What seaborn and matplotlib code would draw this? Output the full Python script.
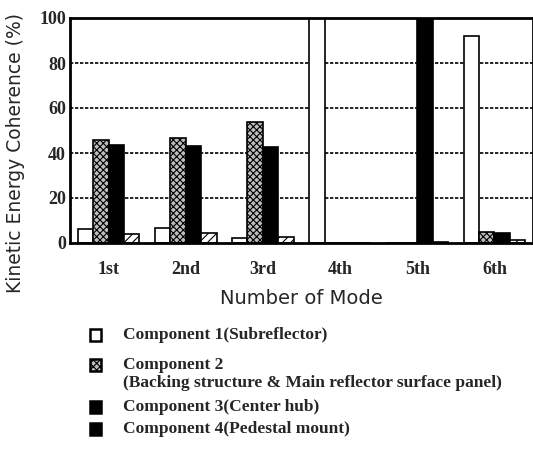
import pandas as pd
import numpy as np
import matplotlib.pyplot as plt
import matplotlib.patches as mpatches
import seaborn as sns

# Data
modes = ["1st", "2nd", "3rd", "4th", "5th", "6th"]
components = ["Component 1", "Component 2", "Component 3", "Component 4"]
comp1 = [6, 6.5, 2, 100, 0, 92]
comp2 = [46, 46.5, 54, 0, 0, 5]
comp3 = [43.5, 43, 42.5, 0, 100, 4.5]
comp4 = [4, 4.5, 2.5, 0, 0.5, 1.5]
legend_labels = [
  "Component 1(Subreflector)",
  "Component 2\n(Backing structure & Main reflector surface panel)",
  "Component 3(Center hub)",
  "Component 4(Pedestal mount)",
]

df = pd.DataFrame({
  "mode": modes * 4,
  "component": np.repeat(components, len(modes)),
  "value": comp1 + comp2 + comp3 + comp4,
})

sns.set_style("white")
plt.rcParams["font.family"] = ["DejaVu Sans"]
plt.rcParams["hatch.linewidth"] = 0.8

W, H = 533, 457
fig = plt.figure(figsize=(W / 100, H / 100), dpi=100)
ax = fig.add_axes([70 / W, 1 - 243 / H, 463 / W, 225 / H])

sns.barplot(data=df, x="mode", y="value", hue="component", order=modes,
            hue_order=components, ax=ax, width=0.8, legend=False,
            edgecolor="black", linewidth=1.2)

# styles per component
faces = ["white", "#bdbdbd", "black", "white"]
hatches = ["", "xxxxx", "", "////"]
for cont, fc, h in zip(ax.containers, faces, hatches):
  for p in cont:
    p.set_facecolor(fc)
    p.set_hatch(h)
    p.set_edgecolor("black")

ax.set_ylim(0, 100)
ax.set_xlim(-0.5, 5.5)
ax.set_yticks([0, 20, 40, 60, 80, 100])
for y in [20, 40, 60, 80]:
  ax.axhline(y, color="black", linestyle=(0, (2, 1)), linewidth=1.2, zorder=0)
for s in ax.spines.values():
  s.set_linewidth(2)
  s.set_color("black")

ax.set_yticklabels([str(v) for v in [0, 20, 40, 60, 80, 100]],
                   family="Liberation Serif", fontweight="bold", fontsize=13)
ax.set_xticklabels(modes, family="Liberation Serif", fontweight="bold", fontsize=13)
ax.tick_params(axis="both", length=0, pad=3)
ax.tick_params(axis="x", pad=13)
ax.set_xlabel("Number of Mode", fontsize=14, labelpad=8)
ax.set_ylabel("")
fig.text(16 / W, 1 - 153 / H, "Kinetic Energy Coherence (%)", rotation=90,
         ha="center", va="center", fontsize=13.5)

# legend placed by hand below the axes
legend_faces = ["white", "#bdbdbd", "black", "black"]
legend_hatch = ["", "xxxxx", "", ""]
legend_y = [335, 365, 407, 429]
for fc, h, yy, lab in zip(legend_faces, legend_hatch, legend_y, legend_labels):
  fig.add_artist(mpatches.Rectangle((90 / W, 1 - (yy + 6) / H), 11 / W, 12 / H,
                                    facecolor=fc, edgecolor="black", hatch=h,
                                    linewidth=1.8, transform=fig.transFigure))
  fig.text(123 / W, 1 - (yy - 8) / H, lab, ha="left", va="top",
           family="Liberation Serif", fontweight="bold", fontsize=12.5,
           linespacing=1.15)

plt.savefig("out.png", dpi=100)
